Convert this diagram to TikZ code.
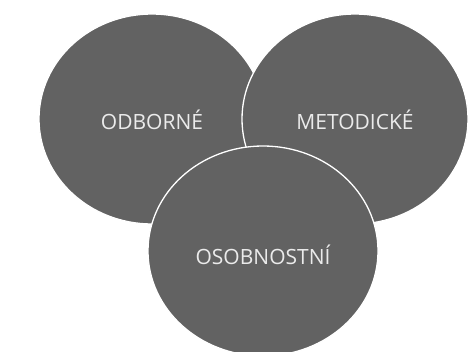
\documentclass[tikz,border=0pt]{standalone}
\usepackage{fontspec}
\setmainfont{Open Sans}
\definecolor{blobgray}{RGB}{98,98,98}
\tikzset{
  blob/.style={ellipse, draw=white, line width=1.3pt, fill=blobgray,
    minimum width=226pt, minimum height=210pt, inner sep=0pt},
  lbl/.style={text=white!92!black, font=\fontsize{21}{23}\selectfont}
}
\usetikzlibrary{shapes.geometric}
\begin{document}
\begin{tikzpicture}[x=1pt,y=-1pt]
\useasboundingbox (0,0) rectangle (473,351);
\node[blob] (odb) at (152,119) {};
\node[blob] (met) at (355,119) {};
\node[blob, minimum width=230pt] (oso) at (263,251) {};
\node[lbl] (t1) at ([yshift=-1pt]odb.center) {ODBORNÉ};
\node[lbl] (t2) at ([yshift=-1pt]met.center) {METODICKÉ};
\node[lbl] (t3) at ([yshift=-4pt]oso.center) {OSOBNOSTNÍ};
\end{tikzpicture}
\end{document}
